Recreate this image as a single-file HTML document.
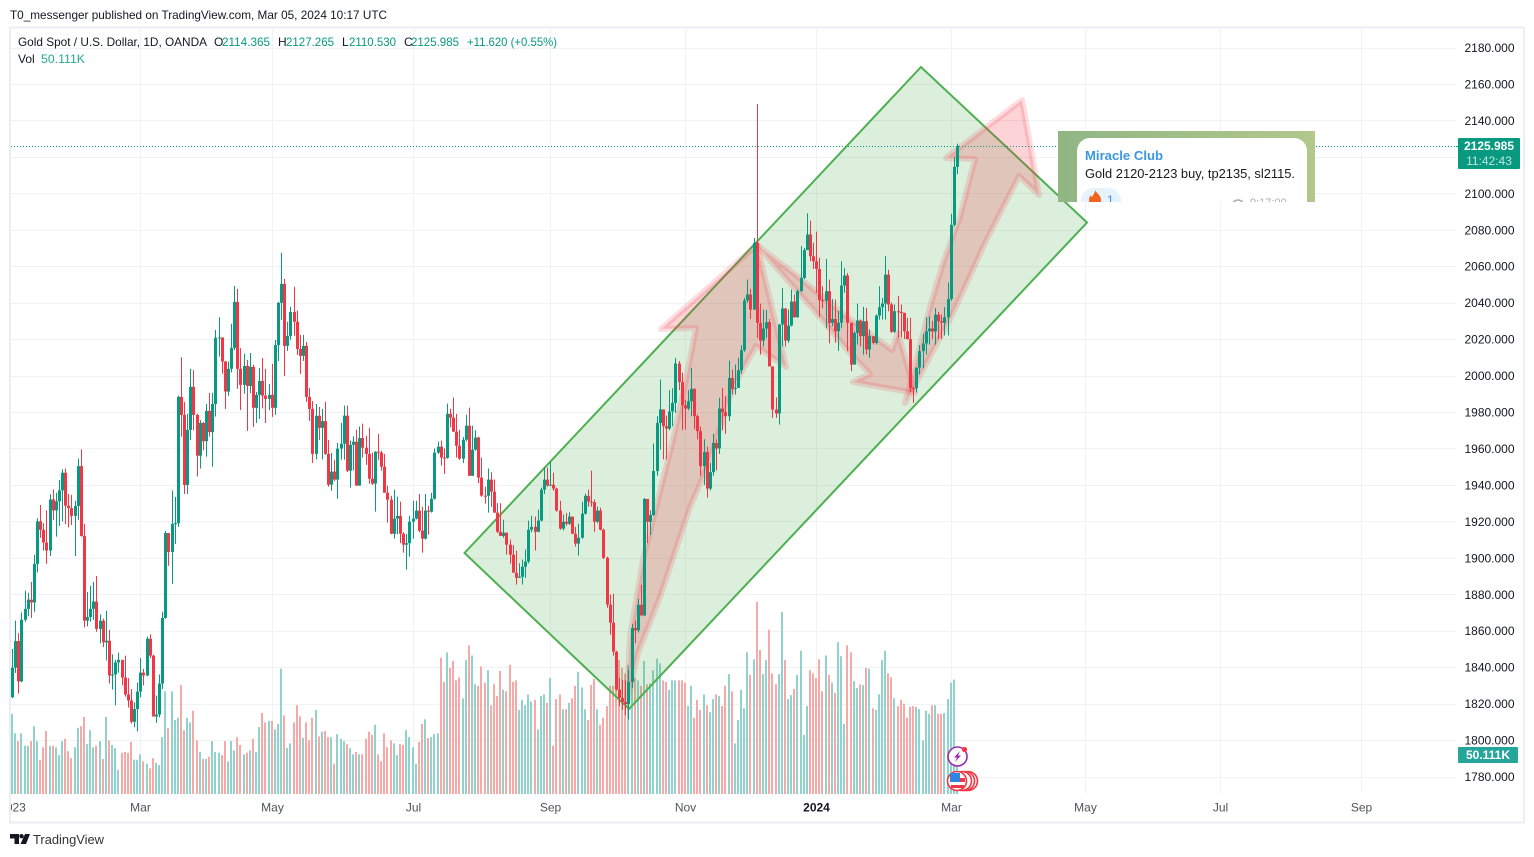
<!DOCTYPE html>
<html lang="en">
<head>
<meta charset="utf-8">
<title>Gold Spot / U.S. Dollar, 1D, OANDA</title>
<style>
html,body{margin:0;padding:0;background:#fff;width:1534px;height:857px;overflow:hidden}
svg{display:block;font-family:"Liberation Sans",Arial,sans-serif}
text{white-space:pre}
</style>
</head>
<body>
<svg id="chart" xmlns="http://www.w3.org/2000/svg" width="1534" height="857" viewBox="0 0 1534 857">
  <defs>
    <clipPath id="pane-clip"><rect x="11" y="28" width="1445" height="766"/></clipPath>
    <clipPath id="axis-clip"><rect x="11" y="796" width="1445" height="24"/></clipPath>
    <clipPath id="card-clip"><rect x="1058" y="131" width="257" height="71"/></clipPath>
    <linearGradient id="card-bg" x1="0" x2="1" y1="0" y2="0"><stop offset="0" stop-color="#90b684"/><stop offset="1" stop-color="#b2c88c"/></linearGradient>
  </defs>

  <text x="10" y="19" font-size="12" fill="#131722" textLength="377" lengthAdjust="spacingAndGlyphs">T0_messenger published on TradingView.com, Mar 05, 2024 10:17 UTC</text>
  <rect x="10" y="27.5" width="1514" height="795" fill="#fff" stroke="#eceef4" stroke-width="2"/>

  <g id="grid"></g>
  <g clip-path="url(#pane-clip)">
    <g id="volumes"></g>
    <polygon points="464.5,553 921,67 1087,222.5 629,709" fill="rgba(76,175,80,0.2)" stroke="#4caf50" stroke-width="2"/>
    <g fill="rgba(242,54,69,0.22)" stroke="rgba(242,54,69,0.17)" stroke-width="6" stroke-linejoin="round">
      <polygon points="627,702 630,637 643,560 653,520 663,480 673,440 685,385 696,328 661,329 757,245 786,367 756,346 733,387 717,437 706,470 690,507 660,597 638,653"/>
      <polygon points="757,245 802,280 847,317 892,350 898,333 915,393 853,382 870,374 850,353 820,317 790,283"/>
      <polygon points="905,403 930,307 943,263 960,217 975,159 946,158 1022,100 1039,195 1019,176 985,243 953,313 923,370"/>
    </g>
    <g id="candles"></g>
    <line id="last-price-line" x1="11" x2="1458" stroke="#089981" stroke-width="1" stroke-dasharray="1 2"/>
  </g>
  <line id="last-price-line-right" x1="1456" x2="1458" stroke="#089981"/>

  <g id="x-axis" clip-path="url(#axis-clip)"></g>
  <g id="y-axis"></g>

  <g clip-path="url(#card-clip)">
    <rect x="1058" y="131" width="257" height="71" fill="url(#card-bg)"/>
    <rect x="1077" y="138" width="230" height="90" rx="13" fill="#fff"/>
    <text x="1085" y="160" font-size="13" font-weight="700" fill="#3a97dd" textLength="78" lengthAdjust="spacingAndGlyphs">Miracle Club</text>
    <text x="1085" y="178" font-size="13" fill="#1a1a1a" textLength="210" lengthAdjust="spacingAndGlyphs">Gold 2120-2123 buy, tp2135, sl2115.</text>
    <rect x="1081" y="188" width="40" height="26" rx="13" fill="#e6f3fc"/>
    <path d="M1095 190c1 3 6 5 6 10s-3 6-6 6-6-2-6-6c0-2 1-4 2-5 0 2 1 2 1 2 1-2 3-4 3-7z" fill="#f2641e"/>
    <text x="1107" y="204" font-size="12" fill="#3390ec">1</text>
    <circle cx="1238" cy="206" r="6" fill="none" stroke="#a8acb0" stroke-width="1.5"/>
    <text x="1250" y="206" font-size="11" fill="#a8acb0">9:17:00</text>
  </g>

  <g font-size="12">
    <text x="18" y="46" fill="#131722" textLength="189" lengthAdjust="spacingAndGlyphs">Gold Spot / U.S. Dollar, 1D, OANDA</text>
    <text x="214" y="46" fill="#131722">O</text>
    <text x="222" y="46" fill="#089981" textLength="48" lengthAdjust="spacingAndGlyphs">2114.365</text>
    <text x="278" y="46" fill="#131722">H</text>
    <text x="286" y="46" fill="#089981" textLength="48" lengthAdjust="spacingAndGlyphs">2127.265</text>
    <text x="342" y="46" fill="#131722">L</text>
    <text x="349" y="46" fill="#089981" textLength="47" lengthAdjust="spacingAndGlyphs">2110.530</text>
    <text x="404" y="46" fill="#131722">C</text>
    <text x="411" y="46" fill="#089981" textLength="48" lengthAdjust="spacingAndGlyphs">2125.985</text>
    <text x="467" y="46" fill="#089981" textLength="90" lengthAdjust="spacingAndGlyphs">+11.620 (+0.55%)</text>
    <text x="18" y="63" fill="#131722">Vol</text>
    <text x="41" y="63" fill="#22ab94" textLength="44" lengthAdjust="spacingAndGlyphs">50.111K</text>
  </g>

  <g>
    <rect x="1458" y="138" width="62" height="31" rx="1" fill="#089981"/>
    <text x="1489" y="150" font-size="12" font-weight="700" fill="#fff" text-anchor="middle">2125.985</text>
    <text x="1489" y="165" font-size="12" fill="#fff" fill-opacity="0.75" text-anchor="middle">11:42:43</text>
  </g>
  <g>
    <rect x="1458" y="747" width="60" height="16" rx="1" fill="#26a69a"/>
    <text x="1488" y="759" font-size="12" font-weight="700" fill="#fff" text-anchor="middle">50.111K</text>
  </g>

  <g>
    <circle cx="957.5" cy="756.5" r="9.5" fill="#fff" stroke="#9c27b0" stroke-width="1.6"/>
    <path d="M960 751l-6 6.5h3l-2 4.5 6-6.5h-3z" fill="#9c27b0"/>
    <circle cx="964.5" cy="749.5" r="2.6" fill="#f23645"/>
  </g>
  <g fill="#fff" stroke="#f23645" stroke-width="1.6">
    <circle cx="968" cy="781" r="9.5"/>
    <circle cx="965" cy="781" r="9.5"/>
    <circle cx="962" cy="781" r="9.5"/>
    <circle cx="957" cy="781" r="9.5"/>
    <rect x="950" y="778" width="15" height="4" fill="#f23645" stroke="none"/>
    <rect x="951" y="785" width="13" height="3" fill="#f23645" stroke="none"/>
    <rect x="950" y="773" width="10" height="9" fill="#2e86de" stroke="none"/>
  </g>

  <g>
    <polygon points="10,834 19,834 19,844 14.5,844 14.5,838.5 10,838.5" fill="#131722"/>
    <circle cx="21.5" cy="836.2" r="2.2" fill="#131722"/>
    <polygon points="25,834 30,834 26,844 20.5,844" fill="#131722"/>
    <text x="33" y="844" font-size="13" fill="#333" textLength="71" lengthAdjust="spacingAndGlyphs">TradingView</text>
  </g>
</svg>

<script>
const firstOpen = 1823.5;
const closes = [
1839.7,1854.3,1832.2,1866,1872,1877,1875.5,1896.7,1920,1915.3,
1908.4,1904,1932,1926,1931,1937,1946.7,1928.6,1927.3,1923,
1928.4,1950.3,1912,1865.5,1867.5,1872,1876,1861,1865.5,1853.6,
1854.5,1835.4,1836,1842.6,1844,1834.3,1825,1821.7,1810,1817,
1826.6,1837,1835.4,1855.6,1846.3,1812.9,1814,1831,1867,1913.6,
1903.2,1918.6,1919,1988.3,1978.4,1940,1970.2,1993.8,1978.4,1956,
1974,1964,1980.6,1969,1984.4,2020.7,2020.9,2007.7,1991.2,2003.7,
2015.2,2040.4,2003.7,1994.9,2005.3,1994.3,2004.8,1982.3,1989.4,1997,
1989,1987.2,1989.4,1982.3,2016.7,2039.9,2050.3,2016.3,2021.8,2034.9,
2029.5,2014.6,2010.8,2016.3,1988.3,1981.7,1957,1977.9,1971.3,1975,
1957,1940.1,1947.3,1942.9,1959.9,1962.6,1978,1947.8,1962,1963.7,
1939.6,1965.7,1960.4,1957,1943.4,1940.7,1958.2,1957.7,1950,1935.7,
1931.9,1913.2,1921.5,1923,1913.2,1907.2,1908,1919.8,1921.5,1925.9,
1914.9,1910.5,1925.9,1925.3,1932.4,1957.7,1961,1955,1954.8,1979,
1976.9,1969.2,1961.5,1954.4,1964.8,1972.5,1945,1959.3,1966,1944,
1934.1,1934,1942.9,1936.3,1924.8,1914.3,1912,1913.8,1907.2,1901.7,
1891.8,1889,1889.6,1895.1,1897.9,1915.4,1917,1914.3,1920.4,1937.4,
1942.9,1939.6,1940.1,1938,1925.9,1916,1919.8,1918.7,1922.6,1913.2,
1907.8,1911,1924.2,1934,1930.8,1930.5,1919.8,1925.9,1915.4,1900,
1874.3,1864.4,1848.5,1827.7,1823.1,1820.9,1819.8,1831.9,1861.5,1860.2,
1874.2,1868.4,1932.3,1919.7,1923.5,1947.6,1974,1981.4,1972.2,1970.9,
1980.3,1985,2006.6,1996.4,1983.7,1981.9,1985.9,1992.7,1977.7,1969.5,
1950.3,1958,1938,1947,1963,1960,1981.9,1979.9,1977.7,1998.7,
1992.7,1993.2,2002.9,2013.9,2041.2,2044.5,2036.2,2072.8,2028.9,2019.2,
2025.8,2029.3,2005,1981.4,1979.2,2028,2036.8,2019.2,2027.4,2040.6,
2032,2046.3,2053.6,2068.8,2077.4,2065.5,2062.7,2058.5,2041.3,2041,
2046.3,2028.9,2031,2024.3,2029,2049.4,2054.9,2028.9,2006,2023.4,
2030.2,2021.6,2029.8,2014.3,2021.6,2017.9,2032.9,2037.5,2039.5,2055.4,
2039,2024,2035.3,2034.9,2034.4,2024.3,2020,1993.2,1993,2004.4,
2013.4,2017.6,2024.3,2025.8,2024.2,2033.4,2029.8,2029,2032,2042,
2082.7,2114.5,2125.985
];
const highs = [
1850,1865.5,1858.7,1870,1881.9,1880.8,1886.8,1901.6,1921.7,1929,
1919,1926,1935,1937.5,1935.7,1942.7,1948.5,1949,1935,1934.5,
1931.3,1954.5,1959.5,1918.6,1881.3,1884.6,1886.8,1890,1869,1866.6,
1871,1860.5,1847,1844,1848,1844,1846.3,1834,1828,1820.6,
1831.5,1845,1839,1856.7,1858,1846.8,1824.4,1836,1870.4,1914.7,
1913.6,1937,1933.4,1989,2010,1985.6,1979,2003.7,2003,1979,
1975.5,1974.6,1984.4,1990.5,1990.5,2025,2032,2020.7,2008,2007.7,
2028.4,2049.2,2047.6,2015,2012,2008.6,2012.4,2005.9,1991,2004.2,
2009.7,2003.7,1995.4,2006.4,2019.6,2040.4,2067.3,2053,2029.5,2037.7,
2048.7,2035.7,2022.3,2022.3,2018.5,1993.2,1986,1984.4,1982.8,1981.7,
1985.6,1964.6,1957.5,1953.8,1963,1974,1983.5,1983.5,1964.3,1966.6,
1970.3,1972,1973.6,1967,1971.4,1957.7,1958.5,1968,1958.8,1957,
1939.6,1934,1937.4,1933.5,1930.8,1914,1913,1923,1931.3,1931.3,
1935,1928,1935,1928.6,1935.7,1960,1963.7,1964.3,1960,1984.6,
1981.8,1987.9,1979,1970.3,1966.3,1978.5,1982.4,1972.5,1970,1966.5,
1955,1939,1949,1947,1942.9,1930,1930,1920.9,1913.8,1910,
1907,1903.9,1897,1899,1904.5,1920.4,1923,1922.6,1926.4,1938.5,
1949.5,1949.5,1952.7,1946.7,1938.5,1931.3,1923.7,1924.6,1925,1922.6,
1917,1918.7,1930.8,1935.2,1937.4,1947.8,1932,1928,1927.5,1916,
1900.6,1879.8,1880.3,1849,1834,1833,1833,1838.6,1863.8,1865.5,
1877.5,1885.2,1932.8,1932.3,1926,1962.7,1977.7,1997.8,1981.4,1978,
1992,1993,2009.7,2008,2001.5,1986.8,1992,2004.2,1993,1978.6,
1972,1965,1961,1952,1968,1965,1987.8,1993.2,1988.7,2008.2,
2003.3,2006,2009.7,2016.7,2042.6,2052.7,2047.6,2075.5,2149,2039.5,
2036.2,2036,2031,2005,1988,2028.2,2048,2037,2036.2,2047.2,
2044.5,2047.2,2071,2070,2089,2085,2072.8,2079,2064.6,2049,
2064,2052.7,2042,2041.7,2035.4,2062.7,2059,2056.3,2028.9,2024.3,
2039.5,2030.8,2037.7,2037.1,2025.3,2021.6,2033.5,2049,2042.6,2065.5,
2058,2040,2039,2043.7,2039,2034.4,2031.7,2031.7,1994,2004.4,
2016.7,2023,2031.9,2032.5,2030,2037,2035,2033.5,2037.5,2051,
2088.7,2119.8,2127.265
];
const lows = [
1823,1836.8,1825.5,1831.7,1865,1868,1867,1870.4,1892,1911,
1904,1896.7,1901,1920.8,1911.6,1917.5,1920,1918.6,1916.7,1918,
1901,1920.8,1911.6,1861.8,1862.4,1865,1866,1859.4,1853,1851,
1843.7,1831,1827.7,1819,1837,1830,1823.8,1817.8,1809,1807,
1804.7,1823.5,1830,1835,1845,1812.9,1809.4,1812.5,1828,1866.6,
1895.6,1885.7,1907.6,1917,1966.5,1935,1935,1964.7,1970,1944.6,
1949,1959,1955.5,1966.5,1950,1977.5,2010.4,2001,1981.7,1988.9,
2001.7,2014,1992.7,1981,1990,1969.6,1990.3,1971.8,1974,1976.2,
1982,1974,1981,1977.3,1978.4,2008,2030.6,1999.8,2013.5,2019.6,
2021.8,2011.3,2000.9,2008,1985.6,1975.1,1952,1954,1964.7,1954,
1956.5,1939,1936.8,1942,1932.4,1953.8,1953.8,1947,1938.5,1948,
1939.6,1939.6,1955,1951,1940.7,1940,1925.3,1953.8,1947.8,1935.7,
1919.3,1913,1910.5,1913,1908,1902.8,1893.5,1900.6,1910.5,1921,
1914,1902.8,1910,1912.7,1924.8,1932,1957,1950.6,1946,1954.4,
1971.6,1969,1955,1953.8,1952,1964,1945,1945,1958.8,1941,
1933.5,1929.7,1924.8,1928,1924.6,1913.6,1912,1911,1901.7,1896.8,
1891.8,1885.3,1889,1885.3,1889,1897,1914,1904,1914,1920,
1935,1939,1939.6,1936.8,1925.3,1915.4,1915,1917.6,1918,1913,
1906.1,1901.2,1910.5,1923.7,1928,1928,1914.3,1919,1915,1899.3,
1872.6,1857.8,1846.3,1827,1818.6,1816.7,1813.5,1811.3,1828.6,1853.2,
1859,1868,1868,1908,1912.5,1923,1945,1959.4,1954,1954,
1970,1972.2,1979.5,1992,1970,1970.4,1981,1977.7,1970.4,1965,
1945,1940,1933,1937,1945,1948,1957,1970,1968,1975,
1989.6,1989.6,1999.6,2001,2013,2040,2031,2036,2020.7,2011.5,
2016,2020.7,2005,1976.8,1976.8,1973.1,2016,2016,2018,2027,
2031.7,2031.7,2046,2053,2069,2062.7,2058.5,2045.4,2032.2,2037,
2025.9,2017.6,2027,2018,2013.5,2025.9,2045.4,2013.4,2002.4,2006,
2017,2016,2011.5,2011.5,2009.7,2017,2017,2030.7,2030.7,2030.7,
2035.3,2023.4,2023.4,2020.7,2021,2020,2019.8,1990.8,1985,1990.8,
2000.7,2004,2011.5,2017,2020,2017,2020,2020,2022,2022,
2041,2081.8,2110.53
];
const volumesK = [
103,78,68,78,62,62,68,87,68,44,
60,81,62,62,60,50,68,71,55,46,
60,85,87,99,64,82,60,62,68,45,
99,69,63,59,31,53,54,53,67,44,
44,51,42,39,33,46,40,37,73,132,
85,132,95,98,140,82,98,92,107,69,
54,45,45,48,68,54,53,50,68,42,
68,56,73,63,51,53,56,71,54,86,
104,92,94,94,83,90,161,101,59,65,
92,114,100,72,92,69,98,108,74,80,
81,73,73,39,77,71,68,64,59,51,
54,51,51,71,80,76,89,51,42,78,
60,69,65,50,64,63,82,73,60,39,
67,90,96,72,73,77,78,175,144,182,
162,171,146,150,123,172,191,178,141,139,
164,143,159,114,141,126,158,134,132,166,
144,146,108,121,114,128,119,121,83,126,
128,117,149,62,122,128,109,109,117,123,
139,157,137,109,95,140,148,109,89,98,
113,139,139,172,172,162,155,166,155,149,
146,139,171,141,142,159,174,168,146,144,
134,146,146,146,146,143,113,139,98,121,
108,128,114,105,122,128,126,113,139,154,
132,65,95,134,110,182,153,173,247,185,
154,172,211,155,141,154,234,172,122,127,
135,153,184,76,113,159,155,149,173,132,
178,153,143,130,195,177,90,191,182,145,
136,141,140,162,161,110,108,128,172,184,
155,150,123,113,121,116,98,112,113,112,
109,69,107,103,114,114,103,103,104,122,
143,147,50.111
];
const priceTicks = [2180,2160,2140,2120,2100,2080,2060,2040,2020,2000,1980,1960,1940,1920,1900,1880,1860,1840,1820,1800,1780];
const timeTickBars = [0,41,83,128,172,215,257,300,343,386,431];
const timeTickLabels = ["2023","Mar","May","Jul","Sep","Nov","2024","Mar","May","Jul","Sep"];
const lastPrice = 2125.985;

const NS = "http://www.w3.org/2000/svg";
const UP = "#089981", DOWN = "#f23645";
const UP_VOL = "#92d2cc", DOWN_VOL = "#f7a9a7";

function xAxis(i) { return 12 + i * (945 / 302); }
function yAxis(p) { return 47.5 + (2180 - p) * (729 / 400); }
function volAxis(k) { return k * (39 / 50.111); }
function make(tag, attrs) {
  const el = document.createElementNS(NS, tag);
  for (const k in attrs) el.setAttribute(k, attrs[k]);
  return el;
}

const gridG = document.getElementById("grid");
const candlesG = document.getElementById("candles");
const volumesG = document.getElementById("volumes");
const xAxisG = document.getElementById("x-axis");
const yAxisG = document.getElementById("y-axis");

priceTicks.forEach(function (p) {
  const py = Math.round(yAxis(p)) + 0.5;
  const line = make("line", { x1: 11, x2: 1456, y1: py, y2: py, stroke: "#f1f2f4", "stroke-width": 1 });
  
  
  gridG.appendChild(line);
  const label = make("text", { x: 1489.5, y: yAxis(p) + 4.5, "font-size": 12, fill: "#131722", "text-anchor": "middle" });
  label.textContent = p.toFixed(3);
  
  
  yAxisG.appendChild(label);
});

timeTickBars.forEach(function (b, n) {
  const px = Math.round(xAxis(b)) + 0.5;
  if (n > 0) {
    const line = make("line", { x1: px, x2: px, y1: 28, y2: 794, stroke: "#f1f2f4", "stroke-width": 1 });
    
    
    gridG.appendChild(line);
  }
  const isYear = timeTickLabels[n] === "2024";
  const label = make("text", { x: px, y: 811.5, "font-size": 12, fill: isYear ? "#131722" : "#50535e", "font-weight": isYear ? 700 : 400, "text-anchor": "middle" });
  label.textContent = timeTickLabels[n];
  
  
  xAxisG.appendChild(label);
});

closes.forEach(function (c, i) {
  const o = i === 0 ? firstOpen : closes[i - 1];
  const up = c >= o;
  const px = Math.round(xAxis(i));

  const h = volAxis(volumesK[i]);
  const vol = make("rect", { x: px - 1, y: 794 - h, width: 2, height: h, fill: up ? UP_VOL : DOWN_VOL });
  
  
  volumesG.appendChild(vol);

  const color = up ? UP : DOWN;
  const wy1 = yAxis(highs[i]), wy2 = yAxis(lows[i]);
  const wick = make("rect", { x: px, y: wy1, width: 1, height: Math.max(wy2 - wy1, 1), fill: color });
  
  
  candlesG.appendChild(wick);

  const by1 = yAxis(Math.max(o, c)), by2 = yAxis(Math.min(o, c));
  const body = make("rect", { x: px - 1, y: by1, width: 3, height: Math.max(by2 - by1, 1), fill: color });
  
  
  candlesG.appendChild(body);
});

const lastY = Math.round(yAxis(lastPrice)) + 0.5;
const lp = document.getElementById("last-price-line");
lp.setAttribute("y1", lastY);
lp.setAttribute("y2", lastY);
const lpr = document.getElementById("last-price-line-right");
lpr.setAttribute("y1", lastY);
lpr.setAttribute("y2", lastY);
</script>
</body>
</html>
